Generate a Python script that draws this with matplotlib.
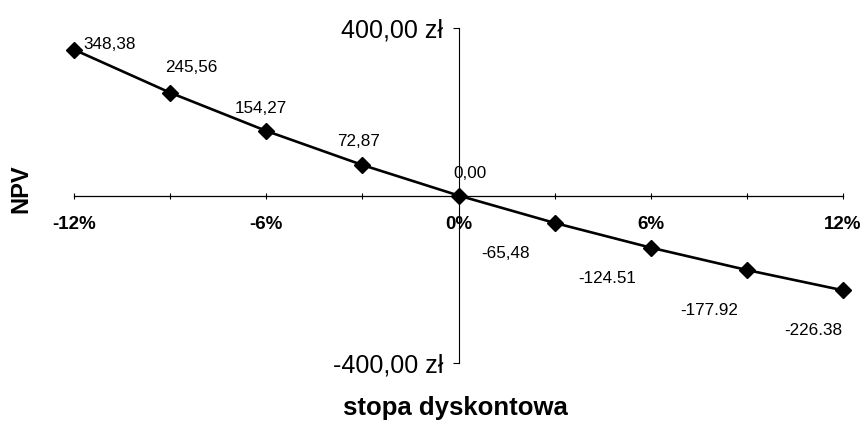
import matplotlib
matplotlib.use("Agg")
import matplotlib.pyplot as plt
from matplotlib.ticker import FixedLocator

plt.rcParams['font.family'] = ['Liberation Sans', 'DejaVu Sans']

# ---- data ----
rates = [-12, -9, -6, -3, 0, 3, 6, 9, 12]          # discount rate, %
npv = [348.38, 245.56, 154.27, 72.87, 0.00, -65.48, -124.51, -177.92, -226.38]
point_labels = ["348,38", "245,56", "154,27", "72,87", "0,00",
                "-65,48", "-124.51", "-177.92", "-226.38"]
x_tick_values = [-12, -9, -6, -3, 0, 3, 6, 9, 12]
x_tick_labels = ["-12%", "", "-6%", "", "0%", "", "6%", "", "12%"]
y_tick_values = [-400, 400]
y_tick_labels = ["-400,00 zł", "400,00 zł"]
x_title = "stopa dyskontowa"
y_title = "NPV"

# label placement (pixel offsets from each point) – style only
label_dx = [9, 21, -5, -4, 11, -49, -44, -38, -30]
label_dy = [1, 21, 18, 19, 17, -35, -35, -45, -45]
label_ha = ["left", "center", "center", "center", "center",
            "center", "center", "center", "center"]

fig = plt.figure(figsize=(8.64, 4.26), dpi=100)
ax = fig.add_axes([74/864, 1-363/426, (843-74)/864, (363-28)/426])

ax.plot(rates, npv, color='black', lw=1.9, marker='D', markersize=7.8,
        markerfacecolor='black', markeredgecolor='black', zorder=3,
        solid_joinstyle='round', clip_on=False)

for x, y, t, dx, dy, ha in zip(rates, npv, point_labels, label_dx, label_dy, label_ha):
    ax.annotate(t, (x, y), xytext=(dx, dy), textcoords='offset pixels',
                ha=ha, va='baseline', fontsize=12.3, color='black')

ax.set_xlim(-12, 12)
ax.set_ylim(-400, 400)

for s in ['top', 'right']:
    ax.spines[s].set_visible(False)
ax.spines['left'].set_position(('data', 0))
ax.spines['bottom'].set_position(('data', 0))
ax.spines['left'].set_linewidth(0.8)
ax.spines['bottom'].set_linewidth(0.9)

ax.xaxis.set_major_locator(FixedLocator(x_tick_values))
ax.set_xticklabels(x_tick_labels)
ax.tick_params(axis='x', direction='inout', length=4, width=0.8, pad=13,
               labelsize=13.5)
for lbl in ax.get_xticklabels():
    lbl.set_fontweight('bold')

ax.set_yticks(y_tick_values)
ax.set_yticklabels(y_tick_labels)
ax.tick_params(axis='y', direction='out', length=4, width=0.8, pad=7,
               labelsize=18)

fig.text(21/864, 1-189/426, y_title, rotation=90, ha='center', va='center',
         fontsize=17, fontweight='bold')
fig.text(455/864, 1-408/426, x_title, ha='center', va='center',
         fontsize=18.5, fontweight='bold')

fig.savefig("out.png", dpi=100, facecolor='white')
